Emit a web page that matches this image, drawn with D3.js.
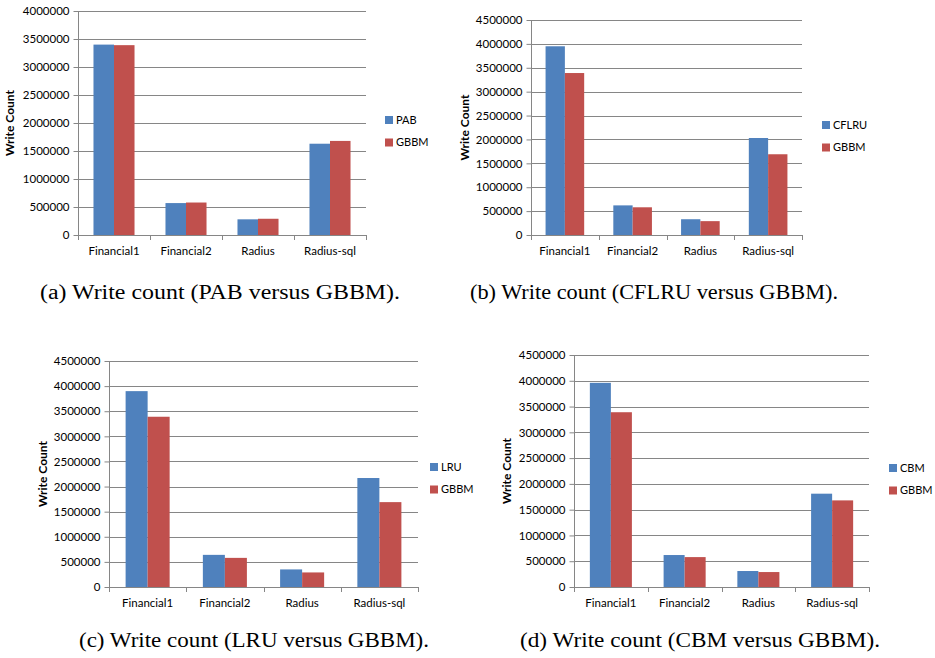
<title>Write count</title>
<body style="margin:0;background:#fff"></body>
<style>
  text { font-family: Lato, "Open Sans", sans-serif; fill: #000; }
  .grid line { stroke: #868686; stroke-width: 1; }
  .axis path, .axis line { stroke: #868686; }
  .cap { font-family: "Liberation Serif", "DejaVu Serif", serif; font-size: 20px; }
</style>
<script src="https://d3js.org/d3.v7.min.js"></script>
<script>
const categories = ['Financial1', 'Financial2', 'Radius', 'Radius-sql']

// one pair of series per panel: [other scheme, GBBM]
const pabSeries   = ['PAB', 'GBBM']
const pabValues   = [[3400000, 570000, 280000, 1630000], [3390000, 580000, 290000, 1680000]]
const cflruSeries = ['CFLRU', 'GBBM']
const cflruValues = [[3950000, 620000, 330000, 2030000], [3390000, 580000, 290000, 1690000]]
const lruSeries   = ['LRU', 'GBBM']
const lruValues   = [[3900000, 640000, 350000, 2170000], [3390000, 580000, 290000, 1690000]]
const cbmSeries   = ['CBM', 'GBBM']
const cbmValues   = [[3960000, 620000, 310000, 1810000], [3390000, 580000, 290000, 1680000]]

const yMaxA = 4000000, yMaxB = 4500000
const tickStep = 500000
const captions = [
  '(a) Write count (PAB versus GBBM).',
  '(b) Write count (CFLRU versus GBBM).',
  '(c) Write count (LRU versus GBBM).',
  '(d) Write count (CBM versus GBBM).'
]
const colors = ['#4F81BD', '#C0504D']

svg = d3.select('body').append('svg')
    .attr('width', 935)
    .attr('height', 658)

// layout of each panel (plot box, title, legend, caption)
panels = [
  {series: pabSeries, values: pabValues, max: yMaxA, x0: 78, x1: 366, yTop: 11, yBot: 235,
   titleX: 10, legX: 385, legY: 120, cap: captions[0], capX: 220, capY: 299, capW: 360},
  {series: cflruSeries, values: cflruValues, max: yMaxB, x0: 531, x1: 802, yTop: 20, yBot: 235,
   titleX: 465, legX: 822, legY: 125, cap: captions[1], capX: 654, capY: 299, capW: 368},
  {series: lruSeries, values: lruValues, max: yMaxB, x0: 109, x1: 418, yTop: 361, yBot: 587,
   titleX: 43, legX: 430, legY: 467, cap: captions[2], capX: 254, capY: 647, capW: 350},
  {series: cbmSeries, values: cbmValues, max: yMaxB, x0: 574, x1: 869, yTop: 355, yBot: 587,
   titleX: 507, legX: 889, legY: 468, cap: captions[3], capX: 700, capY: 647, capW: 360}
]

panels.forEach(drawPanel)

function drawPanel(p) {
  const g = svg.append('g')
  const y = d3.scaleLinear().domain([0, p.max]).range([p.yBot, p.yTop])
  const x = d3.scaleBand().domain(categories).range([p.x0, p.x1])
      .paddingInner(0.43).paddingOuter(0.215)
  const xs = d3.scaleBand().domain(p.series).range([0, x.bandwidth()])
  const ticks = d3.range(0, p.max + 1, tickStep)

  // gridlines
  g.append('g').attr('class', 'grid')
    .selectAll('line').data(ticks.slice(1)).join('line')
      .attr('x1', p.x0).attr('x2', p.x1)
      .attr('y1', d => Math.round(y(d)) + 0.5).attr('y2', d => Math.round(y(d)) + 0.5)

  // bars
  p.series.forEach((s, si) => {
    g.append('g').selectAll('rect').data(p.values[si]).join('rect')
      .attr('x', (d, i) => x(categories[i]) + xs(s))
      .attr('y', d => y(d))
      .attr('width', xs.bandwidth())
      .attr('height', d => p.yBot - y(d))
      .attr('fill', colors[si])
  })

  // y axis
  const ya = g.append('g').attr('class', 'axis')
      .attr('transform', `translate(${Math.round(p.x0) + 0.5},0)`)
      .call(d3.axisLeft(y).tickValues(ticks).tickFormat(d3.format('d')).tickSize(5).tickPadding(4))
  ya.selectAll('text').style('font-size', '11.5px')
  ya.select('.domain').attr('d', `M0,${p.yTop}V${p.yBot}`)

  // x axis: line with ticks at the category boundaries
  const xa = g.append('g').attr('class', 'axis')
  xa.append('line').attr('x1', p.x0).attr('x2', p.x1)
    .attr('y1', p.yBot + 0.5).attr('y2', p.yBot + 0.5)
  xa.selectAll('.bt').data(d3.range(categories.length + 1)).join('line')
    .attr('class', 'bt')
    .attr('x1', i => Math.round(p.x0 + i * x.step()) + 0.5)
    .attr('x2', i => Math.round(p.x0 + i * x.step()) + 0.5)
    .attr('y1', p.yBot).attr('y2', p.yBot + 5)
  const xl = g.append('g')
      .attr('transform', `translate(0,${p.yBot})`)
      .call(d3.axisBottom(x).tickSize(0).tickPadding(12))
  xl.select('.domain').remove()
  xl.selectAll('text').style('font-size', '11.5px')

  // axis title
  g.append('text')
    .attr('transform', `translate(${p.titleX},${(p.yTop + p.yBot) / 2}) rotate(-90)`)
    .attr('text-anchor', 'middle').attr('dy', '0.35em')
    .style('font-size', '12px').style('font-weight', 'bold')
    .text('Write Count')

  // legend
  const lg = g.append('g').selectAll('g').data(p.series).join('g')
      .attr('transform', (d, i) => `translate(${p.legX},${p.legY + i * 22.5})`)
  lg.append('rect').attr('x', 0).attr('y', -4).attr('width', 8).attr('height', 8)
    .attr('fill', (d, i) => colors[i])
  lg.append('text').attr('x', 11).attr('dy', '0.35em')
    .style('font-size', '11px').text(d => d)

  // caption
  svg.append('text').attr('class', 'cap')
    .attr('x', p.capX).attr('y', p.capY).attr('text-anchor', 'middle')
    .attr('textLength', p.capW).attr('lengthAdjust', 'spacingAndGlyphs')
    .text(p.cap)
}
</script>
